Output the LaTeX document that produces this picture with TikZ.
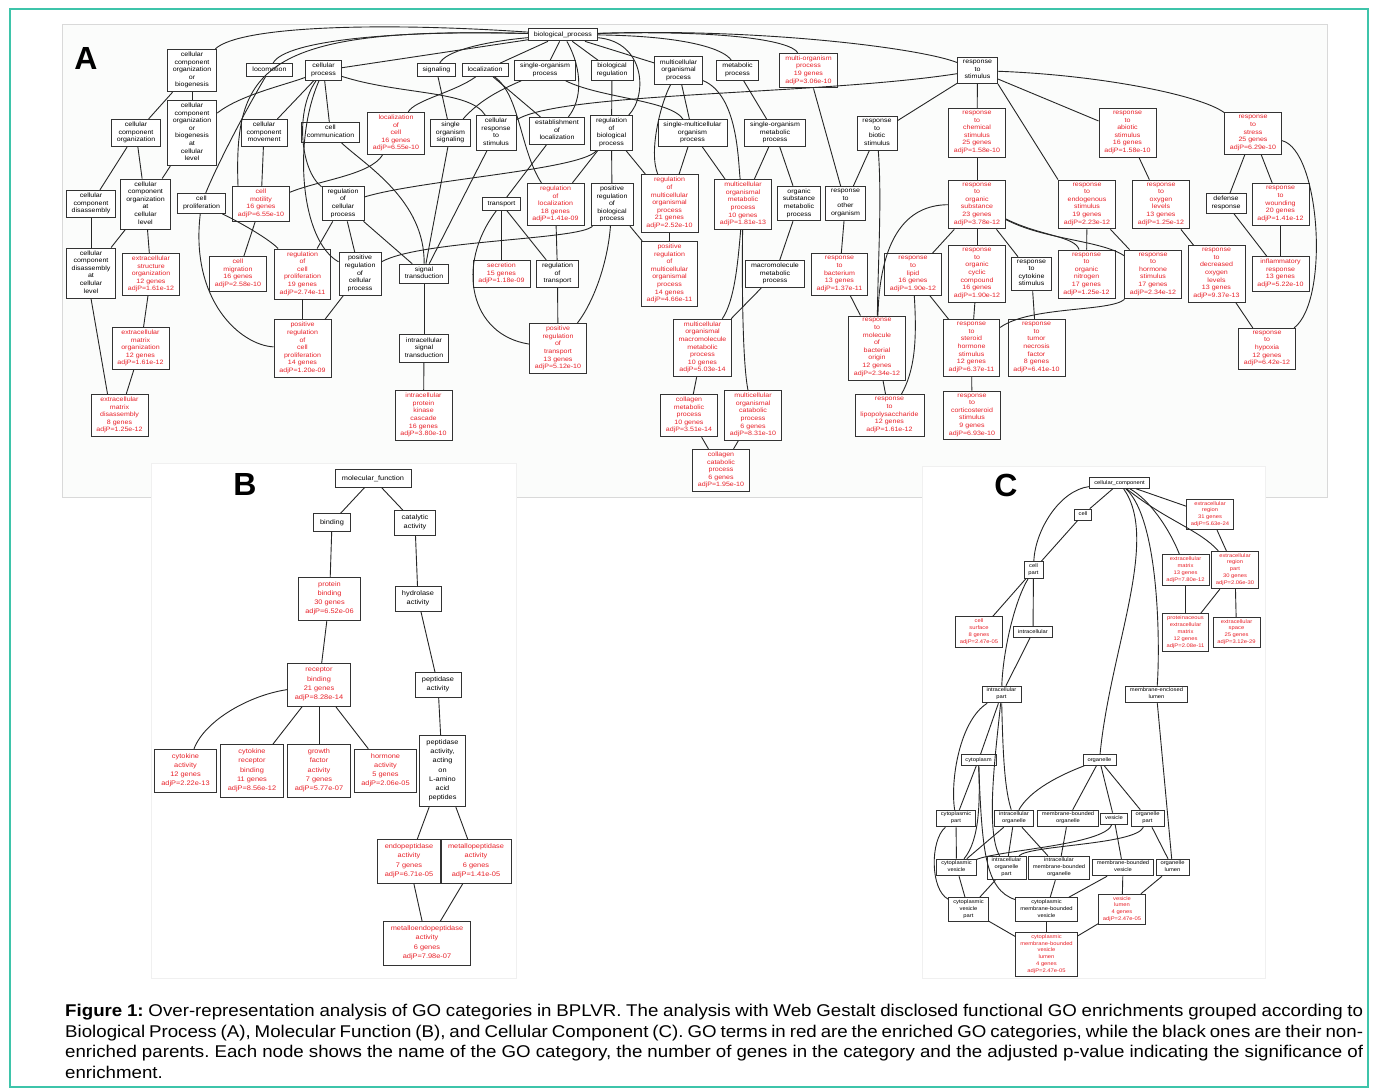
\documentclass[tikz,border=0pt]{standalone}
\usepackage{fontspec}
\setmainfont{Liberation Sans}
\newfontfamily\gofont{Liberation Sans}[FakeStretch=1.12]
\newfontfamily\capfont{Liberation Sans}[FakeStretch=1.1]
\definecolor{enr}{RGB}{232,32,40}
\definecolor{frame}{RGB}{62,196,170}
\definecolor{shot}{RGB}{251,252,251}

\begin{document}
\begin{tikzpicture}[x=1pt, y=-1pt,
  go/.style={draw=black!80, line width=0.9pt, fill=white, align=center,
    inner xsep=5.5pt, inner ysep=2.6pt, font=\gofont\fontsize{6.3}{7.6}\selectfont,
    execute at begin node=\strut, execute at end node=\strut},
  hit/.style={go, text=enr},
  gob/.style={go, inner xsep=7pt, inner ysep=4pt, font=\gofont\fontsize{6.6}{9.3}\selectfont},
  hitb/.style={gob, text=enr},
  goc/.style={go, inner xsep=4.5pt, inner ysep=2pt, line width=0.8pt,
    font=\gofont\fontsize{5.2}{6.9}\selectfont},
  hitc/.style={goc, text=enr},
  edge/.style={black!85, line width=0.9pt},
  panel/.style={inner sep=0pt, font=\fontsize{32}{32}\selectfont\bfseries}]
  \useasboundingbox (0,0) rectangle (1373,1090);
  \fill[white] (0,0) rectangle (1373,1090);
  \draw[frame, line width=1.5pt] (10,9) rectangle (1368,1087);
  % the three screenshots
  \draw[black!15, fill=shot] (62,24) rectangle (1327,497);
  \filldraw[fill=white, draw=black!6] (151,463) rectangle (516,978);
  \filldraw[fill=white, draw=black!6] (922,466) rectangle (1265,978);
  \node[panel] (la) at (86,58) {A};
  \node[panel] (lb) at (245,484) {B};
  \node[panel] (lc) at (1006,485) {C};

  % A: biological process
  \node[go] (bp) at (563,34.5) {biological\_process};
  \node[go] (ccob) at (192,70.5) {cellular\\component\\organization\\or\\biogenesis};
  \node[go] (loco) at (269.5,70) {locomotion};
  \node[go] (cp) at (323.5,70.5) {cellular\\process};
  \node[go] (sig) at (436.5,70) {signaling};
  \node[go] (loc) at (485,70) {localization};
  \node[go] (sop) at (545,70.5) {single-organism\\process};
  \node[go] (breg) at (612,70.5) {biological\\regulation};
  \node[go] (mop) at (678.5,70.5) {multicellular\\organismal\\process};
  \node[go] (metp) at (737.5,70.5) {metabolic\\process};
  \node[hit] (moo) at (808.5,70.5) {multi-organism\\process\\19 genes\\adjP=3.06e-10};
  \node[go] (rs) at (977.5,70.5) {response\\to\\stimulus};

  \node[go] (cco) at (136,133) {cellular\\component\\organization};
  \node[go] (ccobc) at (192,133) {cellular\\component\\organization\\or\\biogenesis\\at\\cellular\\level};
  \node[go] (ccm) at (264,133) {cellular\\component\\movement};
  \node[go] (ccomm) at (330.5,132.5) {cell\\communication};
  \node[hit] (locc) at (396,133.5) {localization\\of\\cell\\16 genes\\adjP=6.55e-10};
  \node[go] (sos) at (450.5,133) {single\\organism\\signaling};
  \node[go] (crs) at (496,133) {cellular\\response\\to\\stimulus};
  \node[go] (eloc) at (557,131) {establishment\\of\\localization};
  \node[go] (rbp) at (611.5,133) {regulation\\of\\biological\\process};
  \node[go] (smop) at (692.5,133) {single-multicellular\\organism\\process};
  \node[go] (somp) at (775,133) {single-organism\\metabolic\\process};
  \node[go] (rbs) at (877,133.5) {response\\to\\biotic\\stimulus};
  \node[hit] (rcs) at (977,133) {response\\to\\chemical\\stimulus\\25 genes\\adjP=1.58e-10};
  \node[hit] (ras) at (1127.5,133) {response\\to\\abiotic\\stimulus\\16 genes\\adjP=1.58e-10};
  \node[hit] (rst) at (1253,133.5) {response\\to\\stress\\25 genes\\adjP=6.29e-10};

  \node[go] (ccd) at (91,204) {cellular\\component\\disassembly};
  \node[go] (ccoc) at (145.5,204) {cellular\\component\\organization\\at\\cellular\\level};
  \node[go] (cprol) at (201.5,203.5) {cell\\proliferation};
  \node[hit] (cmot) at (261,204) {cell\\motility\\16 genes\\adjP=6.55e-10};
  \node[go] (rcp) at (343,203.5) {regulation\\of\\cellular\\process};
  \node[go] (trans) at (501.5,204) {transport};
  \node[hit] (rloc) at (555.5,204.5) {regulation\\of\\localization\\18 genes\\adjP=1.41e-09};
  \node[go] (prbp) at (612,204.5) {positive\\regulation\\of\\biological\\process};
  \node[hit] (rmop) at (669.5,203.5) {regulation\\of\\multicellular\\organismal\\process\\21 genes\\adjP=2.52e-10};
  \node[hit] (momp) at (743,204.5) {multicellular\\organismal\\metabolic\\process\\10 genes\\adjP=1.81e-13};
  \node[go] (osmp) at (799,203.5) {organic\\substance\\metabolic\\process};
  \node[go] (roo) at (845.5,203.5) {response\\to\\other\\organism};
  \node[hit] (ros) at (977,204.5) {response\\to\\organic\\substance\\23 genes\\adjP=3.78e-12};
  \node[hit] (res) at (1087,204.5) {response\\to\\endogenous\\stimulus\\19 genes\\adjP=2.23e-12};
  \node[hit] (rol) at (1161,204.5) {response\\to\\oxygen\\levels\\13 genes\\adjP=1.25e-12};
  \node[go] (dres) at (1226,203.5) {defense\\response};
  \node[hit] (rwo) at (1280.5,204.5) {response\\to\\wounding\\20 genes\\adjP=1.41e-12};

  \node[go] (ccdc) at (91,273) {cellular\\component\\disassembly\\at\\cellular\\level};
  \node[hit] (eso) at (151,274.5) {extracellular\\structure\\organization\\12 genes\\adjP=1.61e-12};
  \node[hit] (cmig) at (238,274) {cell\\migration\\16 genes\\adjP=2.58e-10};
  \node[hit] (rcprol) at (302.5,274) {regulation\\of\\cell\\proliferation\\19 genes\\adjP=2.74e-11};
  \node[go] (prcp) at (360,274) {positive\\regulation\\of\\cellular\\process};
  \node[go] (sigt) at (424,274) {signal\\transduction};
  \node[hit] (secr) at (501.5,274) {secretion\\15 genes\\adjP=1.18e-09};
  \node[go] (rtr) at (557.5,274) {regulation\\of\\transport};
  \node[hit] (prmop) at (669.5,274) {positive\\regulation\\of\\multicellular\\organismal\\process\\14 genes\\adjP=4.66e-11};
  \node[go] (mmp) at (775,274) {macromolecule\\metabolic\\process};
  \node[hit] (rbac) at (839.5,274.5) {response\\to\\bacterium\\13 genes\\adjP=1.37e-11};
  \node[hit] (rlip) at (913,274.5) {response\\to\\lipid\\16 genes\\adjP=1.90e-12};
  \node[hit] (rocc) at (977,274) {response\\to\\organic\\cyclic\\compound\\16 genes\\adjP=1.90e-12};
  \node[go] (rcyt) at (1031.5,274) {response\\to\\cytokine\\stimulus};
  \node[hit] (ron) at (1086.5,274.5) {response\\to\\organic\\nitrogen\\17 genes\\adjP=1.25e-12};
  \node[hit] (rhs) at (1153,274.5) {response\\to\\hormone\\stimulus\\17 genes\\adjP=2.34e-12};
  \node[hit] (rdol) at (1216.5,274) {response\\to\\decreased\\oxygen\\levels\\13 genes\\adjP=9.37e-13};
  \node[hit] (infl) at (1280.5,274) {inflammatory\\response\\13 genes\\adjP=5.22e-10};

  \node[hit] (emo) at (140.5,348.5) {extracellular\\matrix\\organization\\12 genes\\adjP=1.61e-12};
  \node[hit] (prcprol) at (302.5,348.5) {positive\\regulation\\of\\cell\\proliferation\\14 genes\\adjP=1.20e-09};
  \node[go] (isigt) at (424,348.5) {intracellular\\signal\\transduction};
  \node[hit] (prtr) at (558,348.5) {positive\\regulation\\of\\transport\\13 genes\\adjP=5.12e-10};
  \node[hit] (mommp) at (702.5,348) {multicellular\\organismal\\macromolecule\\metabolic\\process\\10 genes\\adjP=5.03e-14};
  \node[hit] (rmbo) at (877,348) {response\\to\\molecule\\of\\bacterial\\origin\\12 genes\\adjP=2.34e-12};
  \node[hit] (rshs) at (971.5,348) {response\\to\\steroid\\hormone\\stimulus\\12 genes\\adjP=6.37e-11};
  \node[hit] (rtnf) at (1036.5,348) {response\\to\\tumor\\necrosis\\factor\\8 genes\\adjP=6.41e-10};
  \node[hit] (rhyp) at (1267,349) {response\\to\\hypoxia\\12 genes\\adjP=6.42e-12};

  \node[hit] (emd) at (119.5,415.5) {extracellular\\matrix\\disassembly\\8 genes\\adjP=1.25e-12};
  \node[hit] (ipkc) at (423.5,415.5) {intracellular\\protein\\kinase\\cascade\\16 genes\\adjP=3.80e-10};
  \node[hit] (colm) at (689,415.5) {collagen\\metabolic\\process\\10 genes\\adjP=3.51e-14};
  \node[hit] (mocp) at (753,415.5) {multicellular\\organismal\\catabolic\\process\\6 genes\\adjP=8.31e-10};
  \node[hit] (rlps) at (889.5,415.5) {response\\to\\lipopolysaccharide\\12 genes\\adjP=1.61e-12};
  \node[hit] (rcort) at (972,415.5) {response\\to\\corticosteroid\\stimulus\\9 genes\\adjP=6.93e-10};
  \node[hit] (colc) at (721,470.5) {collagen\\catabolic\\process\\6 genes\\adjP=1.95e-10};

  \foreach \a/\b in {bp/cp, bp/loc, bp/sop, bp/breg, bp/mop, ccob/cco, ccob/ccobc,
      cp/ccm, cp/ccomm, sig/sos, loc/eloc, breg/rbp, mop/smop, metp/somp,
      moo/roo, rs/rbs, rs/rcs, rs/ras, cco/ccd, cco/ccoc, ccobc/ccoc, ccm/cmot,
      sos/sigt, crs/sigt, eloc/trans, rbp/rloc, rbp/prbp, rbp/rmop, smop/rmop,
      smop/momp, somp/momp, somp/osmp, rbs/roo, rcs/ros, ras/rol, rst/dres,
      rst/rwo, ccd/ccdc, ccoc/ccdc, ccoc/eso, cmot/cmig, rcp/rcprol, rcp/prcp,
      rcp/sigt, trans/secr, trans/rtr, rloc/rtr, prbp/prmop, rmop/prmop,
      osmp/mmp, roo/rbac, ros/rlip, ros/rocc, ros/rcyt, res/ron, res/rhs,
      rol/rdol, dres/infl, rwo/infl, eso/emo, rcprol/prcprol, prcp/prcprol,
      sigt/isigt, rtr/prtr, mmp/mommp, rbac/rmbo, rlip/rshs, rocc/rshs,
      rcyt/rtnf, rdol/rhyp, emo/emd, isigt/ipkc, mommp/colm, rmbo/rlps,
      rshs/rcort, colm/colc, mocp/colc}
    \draw[edge] (\a) -- (\b);
  \draw[edge] (rs.south east) -- (res.north west);
  \draw[edge] (ccdc.south) -- ([xshift=-12pt]emd.north);
  \draw[edge] (bp) .. controls (380,22) and (240,26) .. (ccob);
  \draw[edge] (bp) .. controls (400,30) and (285,40) .. (loco);
  \draw[edge] (bp) .. controls (260,26) and (234,70) .. ([xshift=6pt]cmot.north west);
  \draw[edge] (bp) .. controls (480,42) and (445,52) .. (sig);
  \draw[edge] (bp) .. controls (583,70) and (582,100) .. (eloc);
  \draw[edge] (bp) .. controls (645,42) and (648,95) .. (rbp);
  \draw[edge] (bp) .. controls (690,36) and (725,50) .. (metp);
  \draw[edge] (bp) .. controls (720,30) and (790,40) .. (moo);
  \draw[edge] (bp) .. controls (760,28) and (920,48) .. (rs);
  \draw[edge] (mop) .. controls (738,95) and (738,160) .. (momp);
  \draw[edge] (loco) .. controls (240,120) and (215,170) .. (cprol);
  \draw[edge] (sop) .. controls (500,90) and (480,100) .. (sos);
  \draw[edge] (cp) .. controls (285,85) and (240,95) .. (ccobc);
  \draw[edge] (cp) .. controls (295,110) and (300,170) .. (rcp);
  \draw[edge] (cp) .. controls (293,140) and (300,240) .. (prcp);
  \draw[edge] (cp) .. controls (400,95) and (470,90) .. (crs);
  \draw[edge] (loc) .. controls (455,92) and (415,100) .. (locc);
  \draw[edge] (loc) .. controls (520,95) and (520,150) .. (rloc);
  \draw[edge] (sop) .. controls (600,98) and (670,100) .. (smop);
  \draw[edge] (mop) .. controls (662,100) and (648,150) .. (rmop);
  \draw[edge] (rs) .. controls (1100,75) and (1200,95) .. (rst);
  \draw[edge] (rs) .. controls (820,95) and (560,92) .. (crs);
  \draw[edge] (rst) .. controls (1320,150) and (1330,300) .. (rhyp);
  \draw[edge] (locc) .. controls (370,175) and (320,180) .. (cmot);
  \draw[edge] (rbp) .. controls (580,170) and (420,180) .. (rcp);
  \draw[edge] (ccomm) .. controls (365,165) and (425,200) .. (sigt);
  \draw[edge] (cprol) .. controls (245,225) and (270,240) .. (rcprol);
  \draw[edge] (cprol) .. controls (190,300) and (240,345) .. (prcprol);
  \draw[edge] (prbp) .. controls (580,240) and (420,240) .. (prcp);
  \draw[edge] (trans) .. controls (455,265) and (470,335) .. (prtr);
  \draw[edge] (prbp) .. controls (608,260) and (595,300) .. (prtr);
  \draw[edge] (momp) .. controls (738,260) and (735,300) .. (mommp);
  \draw[edge] (momp) .. controls (742,270) and (742,360) .. (mocp);
  \draw[edge] (rbs) .. controls (882,200) and (878,260) .. (rmbo);
  \draw[edge] (ros) .. controls (905,205) and (880,240) .. (rmbo);
  \draw[edge] (ros) .. controls (1040,236) and (1075,236) .. (ron);
  \draw[edge] (ros) .. controls (1045,240) and (1100,240) .. (rhs);
  \draw[edge] (rlip) .. controls (917,340) and (915,370) .. (rlps);
  \draw[edge] (rhs) .. controls (1110,312) and (1030,306) .. (rshs);

  % B: molecular function
  \node[gob] (mf) at (373,478.5) {molecular\_function};
  \node[gob] (bind) at (332,522.5) {binding};
  \node[gob] (cat) at (415,523) {catalytic\\activity};
  \node[hitb] (pbind) at (329.5,599) {protein\\binding\\30 genes\\adjP=6.52e-06};
  \node[gob] (hyd) at (418,599) {hydrolase\\activity};
  \node[hitb] (rbind) at (319,685) {receptor\\binding\\21 genes\\adjP=8.28e-14};
  \node[gob] (pept) at (438,685) {peptidase\\activity};
  \node[hitb] (cyta) at (185.5,771) {cytokine\\activity\\12 genes\\adjP=2.22e-13};
  \node[hitb] (crb) at (252,771) {cytokine\\receptor\\binding\\11 genes\\adjP=8.56e-12};
  \node[hitb] (gfa) at (319,771) {growth\\factor\\activity\\7 genes\\adjP=5.77e-07};
  \node[hitb] (hora) at (385.5,771) {hormone\\activity\\5 genes\\adjP=2.06e-05};
  \node[gob] (paal) at (442.5,771) {peptidase\\activity,\\acting\\on\\L-amino\\acid\\peptides};
  \node[hitb] (endo) at (409,861.5) {endopeptidase\\activity\\7 genes\\adjP=6.71e-05};
  \node[hitb] (metal) at (476,861.5) {metallopeptidase\\activity\\6 genes\\adjP=1.41e-05};
  \node[hitb] (mendo) at (427,943.5) {metalloendopeptidase\\activity\\6 genes\\adjP=7.98e-07};
  \foreach \a/\b in {mf/bind, mf/cat, bind/pbind, cat/hyd, pbind/rbind, hyd/pept,
      rbind/crb, rbind/gfa, rbind/hora, pept/paal, paal/endo, paal/metal,
      endo/mendo, metal/mendo}
    \draw[edge] (\a) -- (\b);
  \draw[edge] (rbind) .. controls (250,695) and (205,720) .. (cyta);

  % C: cellular component
  \node[goc] (cc) at (1119.5,483) {cellular\_component};
  \node[goc] (cell) at (1083,514.5) {cell};
  \node[hitc] (er) at (1210,514.5) {extracellular\\region\\31 genes\\adjP=5.63e-24};
  \node[goc] (cpart) at (1033.5,570) {cell\\part};
  \node[hitc] (ecm) at (1185.5,570) {extracellular\\matrix\\13 genes\\adjP=7.80e-12};
  \node[hitc] (erp) at (1235,570) {extracellular\\region\\part\\30 genes\\adjP=2.06e-30};
  \node[hitc] (csurf) at (979,632) {cell\\surface\\8 genes\\adjP=2.47e-05};
  \node[goc] (intra) at (1033,632) {intracellular};
  \node[hitc] (pecm) at (1185.5,632.5) {proteinaceous\\extracellular\\matrix\\12 genes\\adjP=2.08e-11};
  \node[hitc] (esp) at (1236.5,632.5) {extracellular\\space\\25 genes\\adjP=3.12e-29};
  \node[goc] (ipart) at (1001.5,694.5) {intracellular\\part};
  \node[goc] (mel) at (1156.5,694.5) {membrane-enclosed\\lumen};
  \node[goc] (cyto) at (978.5,760) {cytoplasm};
  \node[goc] (org) at (1099.5,760) {organelle};
  \node[goc] (cypart) at (956,818.5) {cytoplasmic\\part};
  \node[goc] (iorg) at (1014,818.5) {intracellular\\organelle};
  \node[goc] (mbo) at (1068,818.5) {membrane-bounded\\organelle};
  \node[goc] (ves) at (1114,818.5) {vesicle};
  \node[goc] (opart) at (1147.5,818.5) {organelle\\part};
  \node[goc] (cyves) at (956.5,867.5) {cytoplasmic\\vesicle};
  \node[goc] (iopart) at (1006.5,868) {intracellular\\organelle\\part};
  \node[goc] (imbo) at (1059,868) {intracellular\\membrane-bounded\\organelle};
  \node[goc] (mbv) at (1123,867.5) {membrane-bounded\\vesicle};
  \node[goc] (olum) at (1172.5,867.5) {organelle\\lumen};
  \node[goc] (cvp) at (968.5,909.5) {cytoplasmic\\vesicle\\part};
  \node[goc] (cmbv) at (1046.5,909.5) {cytoplasmic\\membrane-bounded\\vesicle};
  \node[hitc] (vlum) at (1122,909.5) {vesicle\\lumen\\4 genes\\adjP=2.47e-05};
  \node[hitc] (cmbvl) at (1046.5,954.5) {cytoplasmic\\membrane-bounded\\vesicle\\lumen\\4 genes\\adjP=2.47e-05};
  \foreach \a/\b in {cc/cell, cc/er, cell/cpart, er/erp, ecm/pecm, erp/pecm,
      erp/esp, cpart/csurf, cpart/intra, intra/ipart, ipart/cyto, cyto/cypart,
      org/mbo, org/ves, org/opart, mel/olum, cypart/cyves, iorg/cyves,
      iorg/iopart, iorg/imbo, mbo/imbo, ves/mbv, opart/olum, cyves/cvp,
      iopart/cvp, imbo/cmbv, mbv/cmbv, mbv/vlum, olum/vlum, cvp/cmbvl,
      cmbv/cmbvl, vlum/cmbvl}
    \draw[edge] (\a) -- (\b);
  \draw[edge] (cc) .. controls (1060,490) and (1035,530) .. (cpart);
  \draw[edge] (cc) .. controls (1150,500) and (1170,530) .. (ecm);
  \draw[edge] (cc) .. controls (1165,520) and (1200,530) .. (erp);
  \draw[edge] (cc) .. controls (1160,520) and (1160,650) .. (mel);
  \draw[edge] (cc) .. controls (1160,540) and (1110,650) .. (org);
  \draw[edge] (cpart) .. controls (1015,600) and (1003,650) .. (ipart);
  \draw[edge] (ipart) .. controls (960,720) and (950,780) .. (cypart);
  \draw[edge] (ipart) .. controls (1003,760) and (1005,790) .. (iorg);
  \draw[edge] (ipart) .. controls (996,750) and (985,830) .. (iopart);
  \draw[edge] (cyto) .. controls (980,800) and (980,840) .. (cyves);
  \draw[edge] (cyto) .. controls (982,850) and (985,890) .. (cmbv);
  \draw[edge] (org) .. controls (1060,775) and (1030,790) .. (iorg);
  \draw[edge] (cypart) .. controls (930,840) and (930,890) .. (cvp);
  \draw[edge] (ves) .. controls (1105,845) and (1000,850) .. (cyves);
  \draw[edge] (opart) .. controls (1135,845) and (1030,845) .. (iopart);

  % caption
  \node[anchor=north west, text width=1298pt, align=justify, inner sep=0pt,
    font=\capfont\fontsize{17}{20.7}\selectfont\frenchspacing] (cap) at (65,1004)
    {\noindent{\bfseries Figure 1:} Over-representation analysis of GO categories in BPLVR. The analysis with Web Gestalt disclosed functional GO enrichments grouped according to\linebreak
     Biological Process (A), Molecular Function (B), and Cellular Component (C). GO terms in red are the enriched GO categories, while the black ones are their non-\linebreak
     enriched parents. Each node shows the name of the GO category, the number of genes in the category and the adjusted p-value indicating the significance of\linebreak
     enrichment.};
\end{tikzpicture}
\end{document}
